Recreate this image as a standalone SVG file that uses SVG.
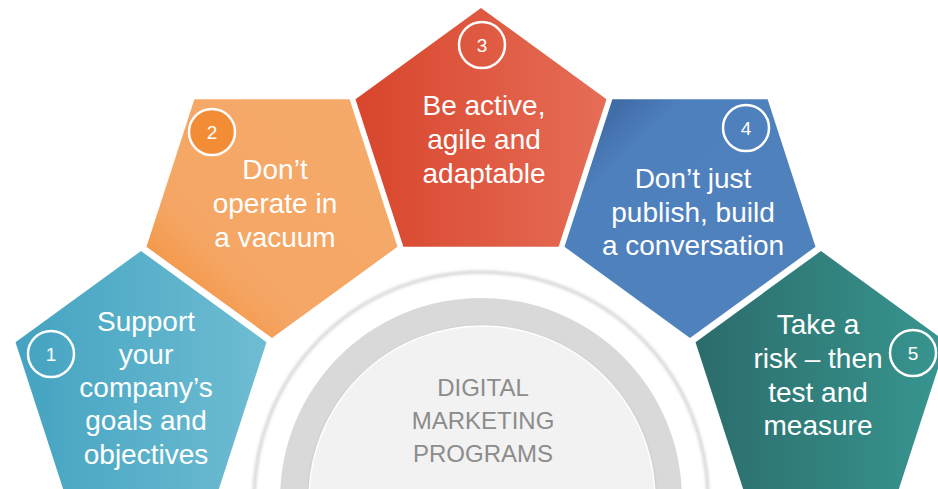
<svg xmlns="http://www.w3.org/2000/svg" width="938" height="489" viewBox="0 0 938 489">
  <defs>
    <linearGradient id="g1" x1="0" y1="0" x2="1" y2="0">
      <stop offset="0" stop-color="#44a3c1"/>
      <stop offset="1" stop-color="#6ebdd2"/>
    </linearGradient>
    <linearGradient id="g2" x1="0" y1="1" x2="1" y2="0">
      <stop offset="0" stop-color="#f2862b"/>
      <stop offset="0.32" stop-color="#f5a664"/>
      <stop offset="1" stop-color="#f5ab6b"/>
    </linearGradient>
    <linearGradient id="g3" x1="0" y1="0" x2="1" y2="0">
      <stop offset="0" stop-color="#d8452c"/>
      <stop offset="1" stop-color="#e66d57"/>
    </linearGradient>
    <linearGradient id="g4" x1="0" y1="0" x2="0.6" y2="0.6">
      <stop offset="0" stop-color="#335a94"/>
      <stop offset="0.4" stop-color="#4e80bd"/>
      <stop offset="1" stop-color="#4f81bd"/>
    </linearGradient>
    <linearGradient id="g5" x1="0" y1="0" x2="1" y2="0">
      <stop offset="0" stop-color="#2b6c6b"/>
      <stop offset="1" stop-color="#389690"/>
    </linearGradient>
    <filter id="soft" x="-10%" y="-10%" width="120%" height="120%">
      <feGaussianBlur stdDeviation="1.5"/>
    </filter>
    <style>
      .label { font-family: "Liberation Sans", Arial, sans-serif; font-size: 28px; fill: #ffffff; text-anchor: middle; }
      .num { font-family: "Liberation Sans", Arial, sans-serif; font-size: 19px; fill: #ffffff; text-anchor: middle; }
      .badge { fill: none; stroke: #ffffff; stroke-width: 2.5; }
      .hub { font-family: "Liberation Sans", Arial, sans-serif; font-size: 24px; fill: #8c8c8c; text-anchor: middle; }
    </style>
  </defs>

  <rect width="938" height="489" fill="#ffffff"/>

  <!-- central hub: outer hairline ring, grey band, light disc -->
  <g id="hub">
    <circle cx="481" cy="499" r="227" fill="none" stroke="#d2d2d2" stroke-width="3" filter="url(#soft)"/>
    <circle cx="481" cy="499" r="227" fill="none" stroke="#e2e2e2" stroke-width="1.2"/>
    <circle cx="481" cy="499" r="201" fill="#d9d9d9"/>
    <circle cx="482" cy="500" r="174" fill="#c2c2c2" filter="url(#soft)"/>
    <circle cx="482" cy="499" r="173" fill="#f2f2f2" stroke="#ffffff" stroke-width="1.5"/>
    <text class="hub" x="483" y="396">DIGITAL</text>
    <text class="hub" x="483" y="429">MARKETING</text>
    <text class="hub" x="483" y="462">PROGRAMS</text>
  </g>

  <!-- 1 -->
  <g id="step1">
    <polygon points="141,251 266.5,342.2 218.6,489.8 63.4,489.8 15.5,342.2" fill="url(#g1)"/>
    <circle class="badge" cx="51" cy="354" r="23"/>
    <text class="num" x="51" y="361">1</text>
    <text class="label" x="146" y="331">Support</text>
    <text class="label" x="146" y="364">your</text>
    <text class="label" x="146" y="397">company’s</text>
    <text class="label" x="146" y="430">goals and</text>
    <text class="label" x="146" y="464">objectives</text>
  </g>

  <!-- 2 -->
  <g id="step2">
    <polygon points="194.4,99.2 349.6,99.2 397.5,246.8 272,338 146.5,246.8" fill="url(#g2)"/>
    <circle class="badge" cx="212" cy="132" r="23" style="fill:#f28c35"/>
    <text class="num" x="212" y="139">2</text>
    <text class="label" x="275" y="179">Don’t</text>
    <text class="label" x="275" y="213">operate in</text>
    <text class="label" x="275" y="247">a vacuum</text>
  </g>

  <!-- 3 -->
  <g id="step3">
    <polygon points="481,8 606.5,99.2 558.6,246.8 403.4,246.8 355.5,99.2" fill="url(#g3)"/>
    <circle class="badge" cx="482" cy="45" r="23"/>
    <text class="num" x="482" y="52">3</text>
    <text class="label" x="484" y="115">Be active,</text>
    <text class="label" x="484" y="149">agile and</text>
    <text class="label" x="484" y="183">adaptable</text>
  </g>

  <!-- 4 -->
  <g id="step4">
    <polygon points="612.4,99.2 767.6,99.2 815.5,246.8 690,338 564.5,246.8" fill="url(#g4)"/>
    <circle class="badge" cx="746" cy="128" r="23"/>
    <text class="num" x="746" y="135">4</text>
    <text class="label" x="693" y="188">Don’t just</text>
    <text class="label" x="693" y="221.5">publish, build</text>
    <text class="label" x="693" y="255">a conversation</text>
  </g>

  <!-- 5 -->
  <g id="step5">
    <polygon points="821,251 946.5,342.2 898.6,489.8 743.4,489.8 695.5,342.2" fill="url(#g5)"/>
    <circle class="badge" cx="913" cy="353" r="23"/>
    <text class="num" x="913" y="360">5</text>
    <text class="label" x="818" y="334">Take a</text>
    <text class="label" x="818" y="368">risk – then</text>
    <text class="label" x="818" y="402">test and</text>
    <text class="label" x="818" y="435">measure</text>
  </g>
</svg>
